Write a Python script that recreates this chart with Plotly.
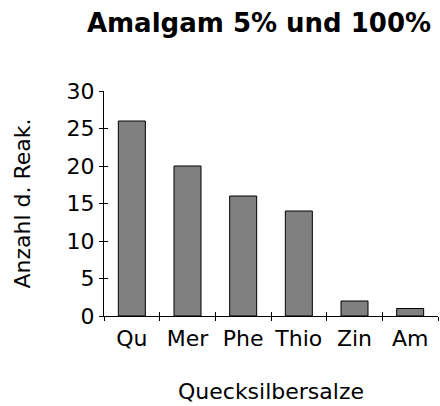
import plotly.graph_objects as go

categories = ["Qu", "Mer", "Phe", "Thio", "Zin", "Am"]
values = [26, 20, 16, 14, 2, 1]
y_ticks = [0, 5, 10, 15, 20, 25, 30]

title_text = "Amalgam 5% und 100%"
x_title = "Quecksilbersalze"
y_title = "Anzahl d. Reak."

FONT = "DejaVu Sans"
n = len(categories)
boundaries = [i - 0.5 for i in range(n + 1)]

fig = go.Figure(
    go.Bar(
        x=categories,
        y=values,
        marker=dict(color="#808080", line=dict(color="#000000", width=1)),
    )
)

fig.update_layout(
    width=440,
    height=406,
    margin=dict(l=104, r=2, t=91, b=90, autoexpand=False),
    paper_bgcolor="white",
    plot_bgcolor="white",
    bargap=0.515,
    showlegend=False,
    font=dict(family=FONT, size=22, color="black"),
    title=dict(
        text="<b>" + title_text + "</b>",
        font=dict(family=FONT, size=26, color="black"),
        xref="container",
        x=259 / 440,
        xanchor="center",
        yref="container",
        y=1 - 23 / 406,
        yanchor="middle",
    ),
    # overlay axes that add the inner half of the crossing tick marks
    xaxis2=dict(
        overlaying="x",
        side="bottom",
        range=[-0.5, n - 0.5],
        tickvals=boundaries,
        ticks="inside",
        ticklen=4,
        tickcolor="black",
        showticklabels=False,
        showline=False,
        showgrid=False,
        zeroline=False,
        automargin=False,
    ),
    yaxis2=dict(
        overlaying="y",
        side="left",
        range=[0, 30],
        tickvals=y_ticks,
        ticks="inside",
        ticklen=4,
        tickcolor="black",
        showticklabels=False,
        showline=False,
        showgrid=False,
        zeroline=False,
        automargin=False,
    ),
)

fig.update_xaxes(
    selector=dict(overlaying=None),
)

fig.layout.xaxis.update(
    type="category",
    range=[-0.5, n - 0.5],
    automargin=False,
    showline=True,
    linecolor="black",
    linewidth=1,
    ticks="outside",
    ticklen=4,
    tickcolor="black",
    tickson="boundaries",
    tickangle=0,
    ticklabelstandoff=3,
    showgrid=False,
    zeroline=False,
    tickfont=dict(family=FONT, size=22, color="black"),
    title=dict(text=x_title, font=dict(family=FONT, size=22, color="black"), standoff=33),
)

fig.layout.yaxis.update(
    range=[0, 30],
    tickvals=y_ticks,
    automargin=False,
    showline=True,
    linecolor="black",
    linewidth=1,
    ticks="outside",
    ticklen=4,
    tickcolor="black",
    showgrid=False,
    zeroline=False,
    tickfont=dict(family=FONT, size=22, color="black"),
    title=dict(text=y_title, font=dict(family=FONT, size=22, color="black"), standoff=29),
)

fig.add_trace(
    go.Scatter(x=[], y=[], xaxis="x2", yaxis="y2", hoverinfo="skip", showlegend=False)
)

fig.write_html(
    "out.html",
    config={"displayModeBar": False},
    post_script="document.body.style.margin='0';",
)
